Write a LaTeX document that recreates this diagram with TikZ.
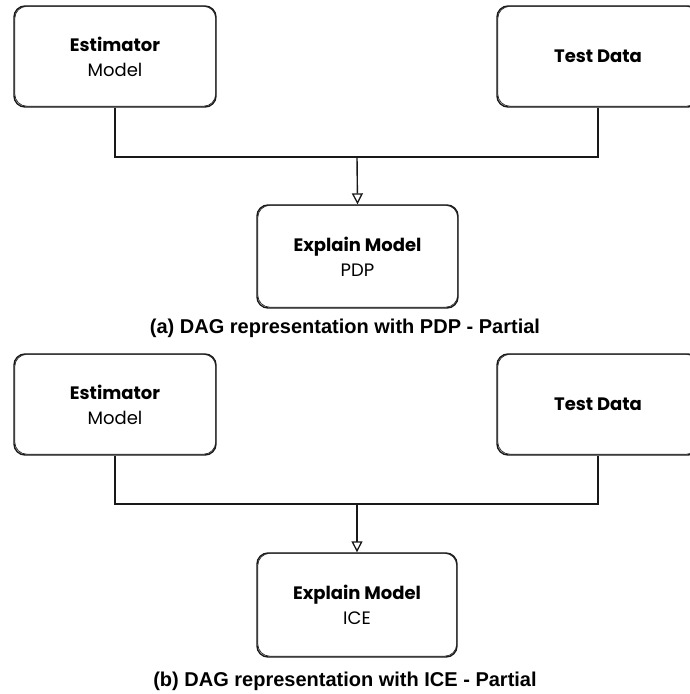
\documentclass[tikz,border=0pt]{standalone}
\usepackage{fontspec}
\setmainfont{Liberation Sans}
\newfontfamily\handfont{Poppins}
\usetikzlibrary{arrows.meta}

\tikzset{
  blockbox/.style={draw=black!90, line width=1.4pt, rounded corners=11pt,
    minimum width=202pt, minimum height=101pt, align=center, fill=white,
    font=\handfont\fontsize{18}{25}\selectfont},
  echo/.style={draw=black!85, line width=0.7pt, rounded corners=12pt},
  link/.style={draw=black!90, line width=1.4pt},
  flow/.style={link, -{Triangle[open, length=11pt, width=11pt, line width=1.3pt]}},
  caption/.style={font=\bfseries\fontsize{20}{24}\selectfont}
}

% second, slightly shifted stroke round a box for the sketched look
\newcommand\sketchedge[1]{%
  \draw[echo] ([shift={(1.5pt,-1pt)}]#1.north west) rectangle ([shift={(-1pt,1.5pt)}]#1.south east);%
}

\begin{document}
\begin{tikzpicture}[x=1pt, y=-1pt]
\useasboundingbox (0,0) rectangle (690,694);

% ---- (a) PDP ----
\node[blockbox] (estA) at (115,56.5) {\textbf{Estimator}\\Model};
\node[blockbox] (testA) at (598,56.5) {\textbf{Test Data}};
\node[blockbox, minimum width=201pt, minimum height=103pt] (expA) at (357.5,256.5) {\textbf{Explain Model}\\PDP};
\sketchedge{estA}\sketchedge{testA}\sketchedge{expA}
\coordinate (jA) at (357,157);
\draw[link] (estA.south) |- (jA) -| (testA.south);
\draw[flow] (jA) -- (expA.north);
\node[caption] (capA) at (345,328) {(a) DAG representation with PDP - Partial};

% ---- (b) ICE ----
\node[blockbox] (estB) at (115,404.5) {\textbf{Estimator}\\Model};
\node[blockbox] (testB) at (598,404.5) {\textbf{Test Data}};
\node[blockbox, minimum width=200pt, minimum height=104pt] (expB) at (357,605) {\textbf{Explain Model}\\ICE};
\sketchedge{estB}\sketchedge{testB}\sketchedge{expB}
\coordinate (jB) at (357,504);
\draw[link] (estB.south) |- (jB) -| (testB.south);
\draw[flow] (jB) -- (expB.north);
\node[caption] (capB) at (345,681) {(b) DAG representation with ICE - Partial};
\end{tikzpicture}
\end{document}
